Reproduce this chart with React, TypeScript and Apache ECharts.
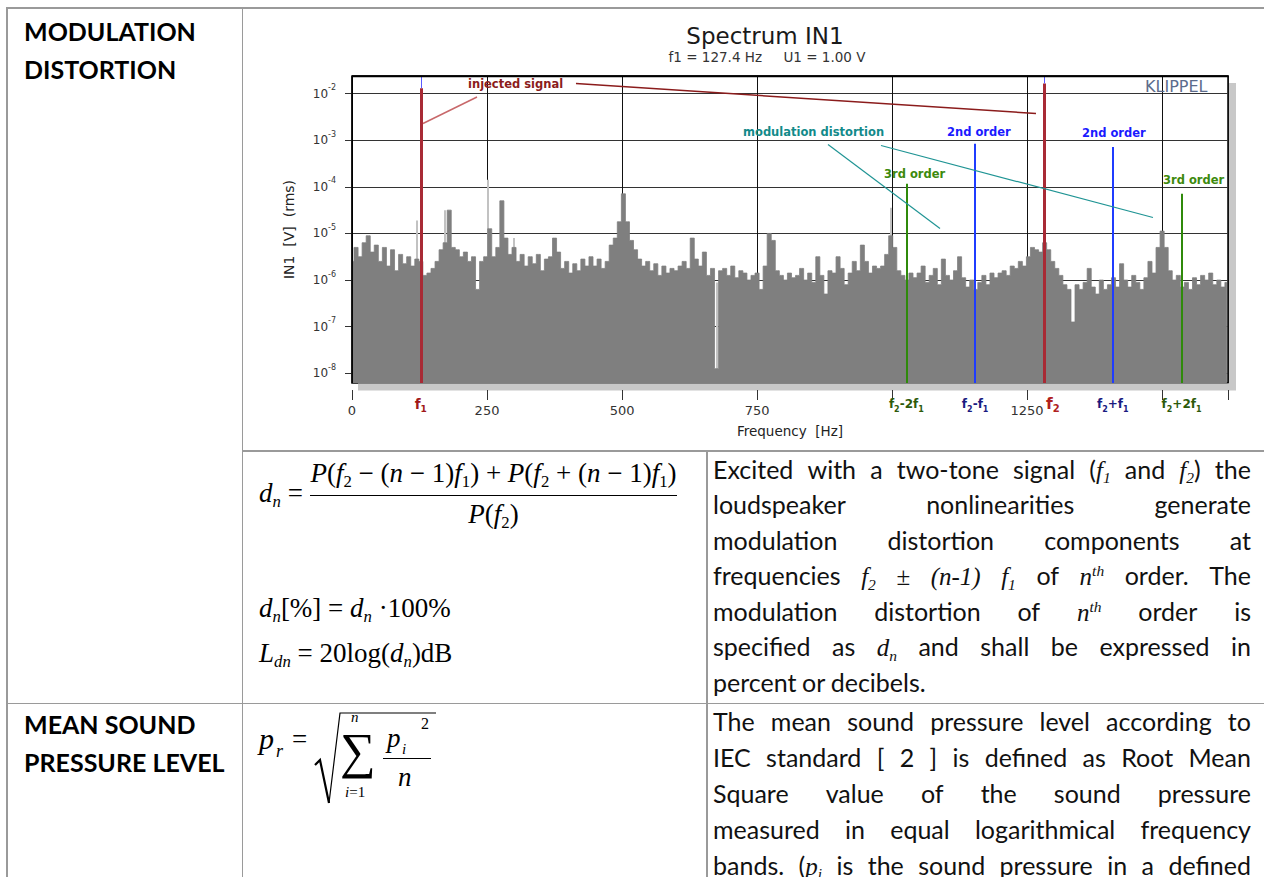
import React, { useEffect, useRef } from "react";
import * as echarts from "echarts";

// ---------------- chart data ----------------
const CHART_TITLE = "Spectrum IN1";
const CHART_SUBTITLE = "f1 = 127.4 Hz     U1 = 1.00 V";
const X_MAX_HZ = 1622;
const X_LABELED = [0, 250, 500, 750, 1250];
const Y_MIN = 6.2e-9;
const Y_MAX = 2.38e-2;
const Y_TICKS = [1e-8, 1e-7, 1e-6, 1e-5, 1e-4, 1e-3, 1e-2];

// noise floor, one value (log10 of V rms) per 7.5 Hz bin
const NOISE_BIN_HZ = 7.5;
const NOISE_LOG10 = [
  -5.6, -5.3, -5.5, -5.2, -5.05, -5.4, -5.25, -5.6, -5.3, -5.7,
  -5.35, -5.8, -5.45, -5.65, -5.5, -5.7, -5.55, -5.6, -5.9, -5.85,
  -5.75, -5.6, -5.35, -5.2, -4.5, -5.3, -5.35, -5.5, -5.4, -5.6,
  -5.5, -6.2, -5.6, -5.5, -4.9, -5.5, -5.3, -4.3, -5.1, -5.45,
  -5.3, -5.6, -5.45, -5.7, -5.5, -5.65, -5.45, -5.8, -5.55, -5.5,
  -5.1, -5.4, -5.75, -5.6, -5.85, -5.65, -5.8, -5.55, -5.7, -5.5,
  -5.7, -5.55, -5.75, -5.6, -5.25, -5.1, -4.75, -4.15, -4.75, -5.15,
  -5.35, -5.55, -5.7, -5.6, -5.8, -5.65, -5.9, -5.7, -5.85, -5.75,
  -5.8, -5.7, -5.6, -5.75, -5.1, -5.55, -5.7, -5.4, -5.9, -5.75,
  -7.9, -5.8, -5.75, -5.9, -5.7, -5.95, -5.8, -5.85, -6.0, -5.9,
  -5.85, -6.2, -5.7, -5.0, -5.15, -5.8, -5.9, -6.0, -5.85, -5.95,
  -5.9, -5.75, -6.0, -5.85, -6.05, -5.5, -5.9, -6.3, -5.8, -5.85,
  -5.5, -5.75, -6.1, -5.85, -5.6, -5.8, -5.25, -5.6, -5.85, -5.7,
  -5.75, -5.7, -5.45, -5.05, -5.3, -5.8, -5.9, -6.0, -5.85, -5.95,
  -5.85, -5.7, -6.05, -5.9, -5.75, -6.1, -5.55, -5.9, -6.0, -5.8,
  -5.5, -5.95, -6.15, -6.0, -6.2, -6.05, -5.9, -6.1, -5.85, -5.95,
  -5.85, -5.8, -5.9, -5.7, -5.75, -5.6, -5.7, -5.5, -5.3, -5.35,
  -5.4, -5.2, -5.35, -5.6, -5.75, -5.9, -6.1, -6.2, -6.9, -6.1,
  -6.2, -6.05, -5.75, -6.15, -6.3, -6.0, -6.2, -6.1, -5.95, -6.15,
  -5.65, -6.0, -6.15, -5.9, -6.05, -6.2, -5.95, -5.6, -5.85, -5.3,
  -4.95, -5.3, -5.8, -6.0, -5.9, -6.15, -6.05, -6.2, -5.95, -6.1,
  -5.9, -6.0, -5.85, -6.1, -6.0, -6.15, -6.05,
];

// light grey (second trace) peaks that stick out of the dark trace
const LIGHT_FREQ_HZ = [120, 171, 251, 300, 675, 997.5];
const LIGHT_LOG10 = [-4.72, -4.5, -3.85, -5.1, -6.05, -4.45];

// signal and distortion components
const COMP_NAMES = ["f1", "f2-2f1", "f2-f1", "f2", "f2+f1", "f2+2f1"];
const COMP_FREQ_HZ = [127.4, 1026.4, 1153.8, 1281.2, 1408.6, 1536.0];
const COMP_LEVEL_V = [1.3e-2, 1.16e-4, 8.4e-4, 1.64e-2, 7.1e-4, 7.1e-5];
const COMP_KIND = ["inj", "d3", "d2", "inj", "d2", "d3"];
const COMP_LABEL_RICH = [
  "{r|f}{rs|1}",
  "{g|f}{gs|2}{g|-2f}{gs|1}",
  "{b|f}{bs|2}{b|-f}{bs|1}",
  "{R|f}{Rs|2}",
  "{b|f}{bs|2}{b|+f}{bs|1}",
  "{g|f}{gs|2}{g|+2f}{gs|1}",
];

// ---------------- styling ----------------
const CF = "'DejaVu Sans', sans-serif";
const SERIF = "'Liberation Serif', 'Times New Roman', serif";
const TEXT = "Lato, 'Open Sans', sans-serif";
const KIND_COLOR: Record<string, string> = { inj: "#a82a35", d2: "#1f3cff", d3: "#2f8a0a" };
const BORDER = "#9a9a9a";

function buildOption() {
  const noise = NOISE_LOG10.map((e, i) => [i * NOISE_BIN_HZ, Math.pow(10, e)]);
  const light = LIGHT_FREQ_HZ.map((f, i) => ({ coords: [[f, Y_MIN], [f, Math.pow(10, LIGHT_LOG10[i])]] }));
  const comps = COMP_FREQ_HZ.map((f, i) => ({
    name: COMP_NAMES[i],
    coords: [[f, Y_MIN], [f, COMP_LEVEL_V[i]]],
    lineStyle: { color: KIND_COLOR[COMP_KIND[i]], width: COMP_KIND[i] === "inj" ? 3 : 2, opacity: 1 },
  }));
  const tops = COMP_FREQ_HZ.map((f, i) => ({ i, f }))
    .filter((d) => COMP_KIND[d.i] === "inj")
    .map((d) => ({ coords: [[d.f, COMP_LEVEL_V[d.i]], [d.f, Y_MAX]] }));

  const lbl = (color: string, size: number, extra: any = {}) => ({
    color, fontSize: size, fontWeight: "bold", fontFamily: CF, lineHeight: 18, ...extra,
  });
  const sub = (color: string, size: number, extra: any = {}) => ({
    color, fontSize: size, fontWeight: "bold", fontFamily: CF, verticalAlign: "bottom", ...extra,
  });

  const txt = (text: string, x: number, y: number, fill: string, size: number, bold = true, align = "left") => ({
    type: "text", x, y, z: 60,
    style: { text, fill, fontSize: size, fontWeight: bold ? "bold" : "normal", fontFamily: CF, textAlign: align, textVerticalAlign: "middle" },
  });
  const seg = (x1: number, y1: number, x2: number, y2: number, stroke: string, w: number) => ({
    type: "line", z: 60, shape: { x1, y1, x2, y2 }, style: { stroke, lineWidth: w },
  });

  return {
    animation: false,
    textStyle: { fontFamily: CF },
    grid: { left: 352, top: 76, width: 876, height: 307, show: true, borderColor: "#000", borderWidth: 1.5, backgroundColor: "transparent" },
    xAxis: [
      {
        type: "value", min: 0, max: X_MAX_HZ, interval: 250, position: "bottom", offset: 7,
        axisLine: { show: false },
        axisTick: { show: true, length: 10, lineStyle: { color: "#333", width: 1 } },
        axisLabel: {
          margin: 14, fontSize: 13, color: "#333", fontFamily: CF, hideOverlap: false,
          formatter: (v: number) => (X_LABELED.indexOf(v) >= 0 ? String(v) : ""),
        },
        splitLine: { show: true, lineStyle: { color: "#111", width: 1 } },
        name: "Frequency  [Hz]", nameLocation: "middle", nameGap: 34,
        nameTextStyle: { fontSize: 13.5, color: "#222", fontFamily: CF },
      },
      {
        type: "value", min: 0, max: X_MAX_HZ, position: "bottom", offset: 7,
        axisLine: { show: false }, axisTick: { show: false }, splitLine: { show: false },
        axisLabel: {
          customValues: COMP_FREQ_HZ, margin: 5, hideOverlap: false,
          formatter: (v: number) => {
            let k = 0;
            COMP_FREQ_HZ.forEach((f, i) => { if (Math.abs(f - v) < Math.abs(COMP_FREQ_HZ[k] - v)) k = i; });
            return COMP_LABEL_RICH[k];
          },
          rich: {
            r: lbl("#a01818", 13.5), rs: sub("#a01818", 9),
            R: lbl("#b02020", 15.5, { padding: [0, 0, 0, 18] }), Rs: sub("#b02020", 10),
            g: lbl("#2d5a0a", 12), gs: sub("#2d5a0a", 8),
            b: lbl("#1a1a80", 12), bs: sub("#1a1a80", 8),
          },
        },
      },
    ],
    yAxis: {
      type: "log", logBase: 10, min: Y_MIN, max: Y_MAX,
      axisLine: { show: false },
      axisTick: { show: true, length: 7, customValues: Y_TICKS, lineStyle: { color: "#333" } },
      axisLabel: {
        customValues: Y_TICKS, margin: 16,
        formatter: (v: number) => `{b|10}{s|${Math.round(Math.log10(v))}}`,
        rich: {
          b: { fontSize: 12, lineHeight: 20, color: "#333", fontFamily: CF },
          s: { fontSize: 8, verticalAlign: "top", color: "#333", fontFamily: CF },
        },
      },
      splitLine: { show: true, lineStyle: { color: "#333", width: 1 } },
      name: "IN1  [V]  (rms)", nameLocation: "middle", nameGap: 56, nameRotate: 90,
      nameTextStyle: { fontSize: 14, color: "#222", fontFamily: CF },
    },
    series: [
      {
        type: "lines", name: "trace2", coordinateSystem: "cartesian2d", silent: true, z: 1,
        data: light, lineStyle: { color: "#c2c2c2", width: 2, opacity: 1 },
      },
      {
        type: "line", name: "noise", data: noise, step: "middle", symbol: "none", silent: true, z: 2,
        lineStyle: { color: "#7f7f7f", width: 0.8 },
        areaStyle: { color: "#7f7f7f", opacity: 1, origin: "start" },
      },
      { type: "lines", name: "components", coordinateSystem: "cartesian2d", silent: true, z: 4, data: comps },
      {
        type: "lines", name: "trace top", coordinateSystem: "cartesian2d", silent: true, z: 4,
        data: tops, lineStyle: { color: "#5a5aff", width: 1, opacity: 1 },
      },
    ],
    graphic: [
      { type: "rect", z: 0, shape: { x: 358, y: 383.5, width: 878, height: 7 }, style: { fill: "#c8c8c8" } },
      { type: "rect", z: 0, shape: { x: 1229, y: 83, width: 7, height: 307 }, style: { fill: "#c8c8c8" } },
      seg(352.2, 76, 352.2, 383, "#000", 1.5),
      seg(352, 76.2, 1228.5, 76.2, "#000", 2),
      txt(CHART_TITLE, 765, 36, "#1a1a1a", 23, false, "center"),
      txt(CHART_SUBTITLE, 767, 57, "#333", 13.5, false, "center"),
      txt("KLIPPEL", 1145, 86, "#5c6c8c", 16, false),
      txt("injected signal", 468, 84, "#8b1c1c", 11.5),
      seg(423, 123.5, 477, 97, "#c8686a", 1.5),
      seg(576, 83.5, 1036, 113.5, "#8b1c1c", 1.5),
      txt("modulation distortion", 743, 131.5, "#128a8a", 11.5),
      seg(828, 144.5, 940, 228.5, "#1f9494", 1.2),
      seg(881, 145.5, 1153, 217.5, "#1f9494", 1.2),
      txt("2nd order", 947, 131.5, "#1a1aff", 11.5),
      txt("2nd order", 1082, 132.5, "#1a1aff", 11.5),
      txt("3rd order", 884, 173.5, "#3d8a0d", 11.5),
      txt("3rd order", 1163, 180, "#3d8a0d", 11.5),
    ],
  };
}

// ---------------- document helpers ----------------
const Sub = ({ children }: any) => (
  <span style={{ fontSize: "0.62em", position: "relative", top: "0.3em", lineHeight: 0 }}>{children}</span>
);
const Sup = ({ children }: any) => (
  <span style={{ fontSize: "0.62em", position: "relative", top: "-0.55em", lineHeight: 0 }}>{children}</span>
);
const MI = ({ children }: any) => <span style={{ fontFamily: SERIF, fontStyle: "italic" }}>{children}</span>;
const MR = ({ children }: any) => <span style={{ fontFamily: SERIF }}>{children}</span>;
const I = ({ children }: any) => <span style={{ fontStyle: "italic" }}>{children}</span>;

function At({ left, baseline, size, family = SERIF, children, style = {}, box }: any) {
  const k = family === SERIF ? 0.8375 : 0.78;
  const lh = box || size;
  return (
    <div style={{ position: "absolute", left, top: baseline - k * size - (lh - size) / 2, fontSize: size, lineHeight: `${lh}px`, fontFamily: family, whiteSpace: "nowrap", ...style }}>
      {children}
    </div>
  );
}

const TXT_LEFT = 713;
const TXT_WIDTH = 538;
const TXT_SIZE = 25;

function JLine({ baseline, words, justify = true }: any) {
  return (
    <div style={{
      position: "absolute", left: TXT_LEFT, width: TXT_WIDTH, top: baseline - 0.78 * TXT_SIZE, height: TXT_SIZE,
      fontSize: TXT_SIZE, lineHeight: `${TXT_SIZE}px`,
      fontFamily: TEXT, color: "#111", display: "flex", alignItems: "baseline", whiteSpace: "nowrap",
      justifyContent: justify ? "space-between" : "flex-start", gap: justify ? 0 : "0.22em",
    }}>
      {words.map((w: any, i: number) => <span key={i}>{w}</span>)}
    </div>
  );
}

const HL = ({ x, y, w }: any) => <div style={{ position: "absolute", left: x, top: y, width: w, height: 1.5, background: BORDER }} />;
const VL = ({ x, y, h }: any) => <div style={{ position: "absolute", left: x, top: y, width: 1.5, height: h, background: BORDER }} />;

export default function App() {
  const ref = useRef<HTMLDivElement>(null);
  useEffect(() => {
    const chart = echarts.init(ref.current as HTMLDivElement, undefined, { renderer: "svg" });
    chart.setOption(buildOption() as any);
    return () => chart.dispose();
  }, []);

  const head = { fontWeight: 700, color: "#000" };
  const F = 27;

  return (
    <div style={{ position: "absolute", left: 0, top: 0, width: 1264, height: 877, overflow: "hidden", background: "#fff", color: "#000" }}>
      {/* table grid */}
      <HL x={6} y={7} w={1258} />
      <VL x={6} y={7} h={870} />
      <VL x={241.5} y={7} h={870} />
      <HL x={241.5} y={450} w={1023} />
      <VL x={706} y={450} h={427} />
      <HL x={6} y={702.5} w={1258} />

      {/* left headers */}
      <At left={24} baseline={38} size={25} family={TEXT} style={head}>MODULATION</At>
      <At left={24} baseline={76} size={25} family={TEXT} style={head}>DISTORTION</At>
      <At left={24} baseline={731} size={25} family={TEXT} style={head}>MEAN SOUND</At>
      <At left={24} baseline={769} size={25} family={TEXT} style={head}>PRESSURE LEVEL</At>

      {/* modulation distortion formulas */}
      <At left={259} baseline={503} size={F}><I>d</I><Sub><I>n</I></Sub> =</At>
      <At left={310} baseline={483} size={F} style={{ width: 367, textAlign: "center" }}>
        <I>P</I>(<I>f</I><Sub>2</Sub> − (<I>n</I> − 1)<I>f</I><Sub>1</Sub>) + <I>P</I>(<I>f</I><Sub>2</Sub> + (<I>n</I> − 1)<I>f</I><Sub>1</Sub>)
      </At>
      <div style={{ position: "absolute", left: 310, top: 495, width: 367, height: 1.3, background: "#000" }} />
      <At left={310} baseline={524} size={F} style={{ width: 367, textAlign: "center" }}>
        <I>P</I>(<I>f</I><Sub>2</Sub>)
      </At>
      <At left={259} baseline={618} size={F}><I>d</I><Sub><I>n</I></Sub>[%] = <I>d</I><Sub><I>n</I></Sub> ·100%</At>
      <At left={259} baseline={663} size={F}><I>L</I><Sub><I>dn</I></Sub> = 20log(<I>d</I><Sub><I>n</I></Sub>)dB</At>

      {/* modulation distortion description */}
      <JLine baseline={476} words={["Excited", "with", "a", "two-tone", "signal", <>(<MI>f<Sub>1</Sub></MI></>, "and", <><MI>f<Sub>2</Sub></MI>)</>, "the"]} />
      <JLine baseline={511.5} words={["loudspeaker", "nonlinearities", "generate"]} />
      <JLine baseline={547} words={["modulation", "distortion", "components", "at"]} />
      <JLine baseline={582.5} words={["frequencies", <MI>f<Sub>2</Sub></MI>, <MR>±</MR>, <MI>(n-1)</MI>, <MI>f<Sub>1</Sub></MI>, "of", <MI>n<Sup>th</Sup></MI>, "order.", "The"]} />
      <JLine baseline={618} words={["modulation", "distortion", "of", <MI>n<Sup>th</Sup></MI>, "order", "is"]} />
      <JLine baseline={653.5} words={["specified", "as", <MI>d<Sub>n</Sub></MI>, "and", "shall", "be", "expressed", "in"]} />
      <JLine baseline={689} justify={false} words={["percent", "or", "decibels."]} />

      {/* mean sound pressure level formula */}
      <At left={259} baseline={749} size={30}><I>p</I></At>
      <At left={276} baseline={757} size={18}><I>r</I></At>
      <At left={292} baseline={749} size={27}>=</At>
      <svg style={{ position: "absolute", left: 0, top: 0 }} width={1264} height={877}>
        <polyline points="315,765 320,760 329,803" fill="none" stroke="#000" strokeWidth={2.2} />
        <polyline points="329,803 340,713 436,713" fill="none" stroke="#000" strokeWidth={1.2} />
      </svg>
      <At left={340} baseline={768} size={50} box={38}>∑</At>
      <At left={351} baseline={723} size={15}><I>n</I></At>
      <At left={345} baseline={798} size={15}><I>i</I>=1</At>
      <At left={387} baseline={748} size={27}><I>p</I></At>
      <At left={402} baseline={755} size={15}><I>i</I></At>
      <At left={421} baseline={729} size={16}>2</At>
      <div style={{ position: "absolute", left: 383, top: 758, width: 48, height: 1.2, background: "#000" }} />
      <At left={398} baseline={787} size={27}><I>n</I></At>

      {/* mean sound pressure level description */}
      <JLine baseline={728} words={["The", "mean", "sound", "pressure", "level", "according", "to"]} />
      <JLine baseline={764} words={["IEC", "standard", "[", "2", "]", "is", "defined", "as", "Root", "Mean"]} />
      <JLine baseline={800} words={["Square", "value", "of", "the", "sound", "pressure"]} />
      <JLine baseline={836} words={["measured", "in", "equal", "logarithmical", "frequency"]} />
      <JLine baseline={872} words={["bands.", <>(<MI>p<Sub>i</Sub></MI></>, "is", "the", "sound", "pressure", "in", "a", "defined"]} />

      {/* chart */}
      <div ref={ref} style={{ position: "absolute", left: 0, top: 0, width: 1264, height: 450 }} />
    </div>
  );
}
